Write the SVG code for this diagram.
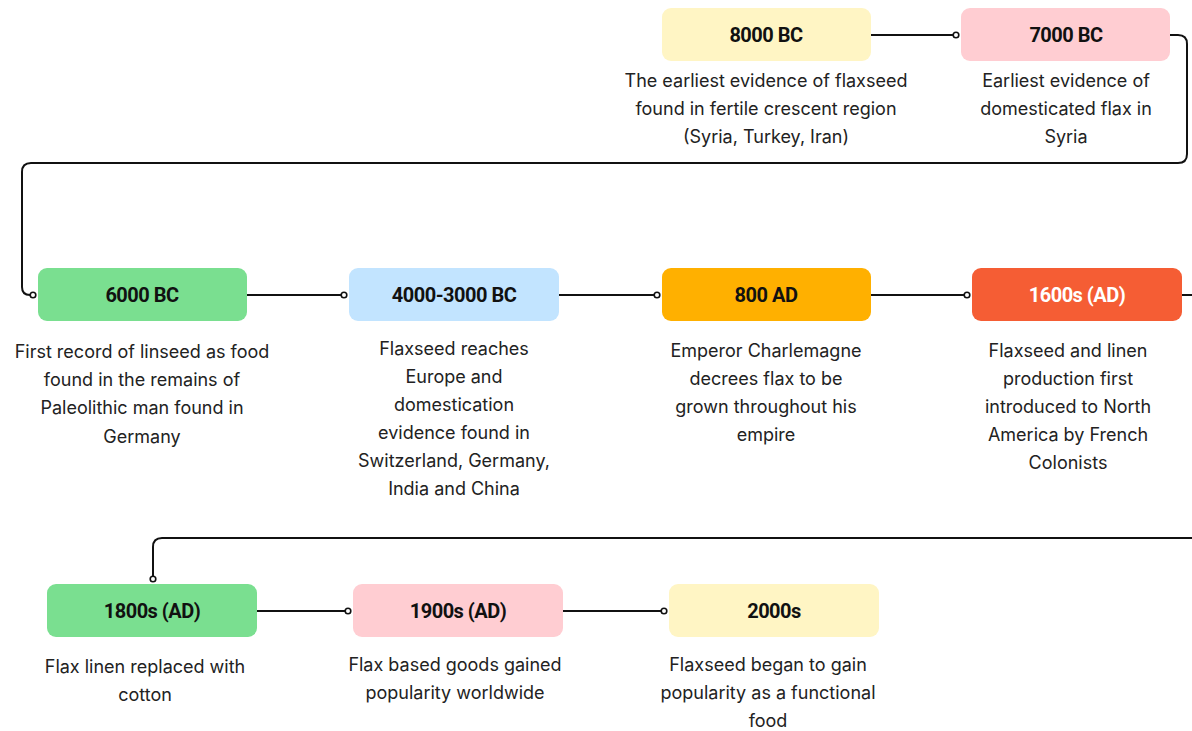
<svg xmlns="http://www.w3.org/2000/svg" width="1192" height="731" viewBox="0 0 1192 731">
<style>
.box{stroke:none}
.t{font-family:Roboto,"Liberation Sans",sans-serif;font-weight:700;font-size:20px;fill:#111;text-anchor:middle;letter-spacing:-0.5px}
.d{font-family:Inter,"Liberation Sans",sans-serif;font-size:18px;fill:#222;text-anchor:middle}
.c{fill:none;stroke:#111;stroke-width:2}
</style>
<defs>
<marker id="dot" markerWidth="8" markerHeight="8" refX="4" refY="4" markerUnits="userSpaceOnUse">
<circle cx="4" cy="4" r="2.8" fill="#fff" stroke="#111" stroke-width="1.6"/>
</marker>
</defs>
<rect width="1192" height="731" fill="#fff"/>
<g id="connectors">
<path class="c" d="M871 35 H956" marker-end="url(#dot)"/>
<path class="c" d="M1170 35 H1178 Q1187 35 1187 44 V154 Q1187 163 1178 163 H31 Q22 163 22 172 V287 Q22 295 30 295 H33" marker-end="url(#dot)"/>
<path class="c" d="M247 295 H344" marker-end="url(#dot)"/>
<path class="c" d="M559 295 H657" marker-end="url(#dot)"/>
<path class="c" d="M871 295 H967" marker-end="url(#dot)"/>
<path class="c" d="M1182 295 H1200 V538 H162 Q153 538 153 547 V579" marker-end="url(#dot)"/>
<path class="c" d="M257 611 H348" marker-end="url(#dot)"/>
<path class="c" d="M563 611 H664" marker-end="url(#dot)"/>
</g>
<g id="n8000">
<rect class="box" x="662" y="8" width="209" height="53" rx="9" fill="#FFF5C4"/>
<text class="t" x="766" y="42">8000 BC</text>
<text class="d" x="766" y="87">The earliest evidence of flaxseed</text>
<text class="d" x="766" y="115">found in fertile crescent region</text>
<text class="d" x="766" y="143">(Syria, Turkey, Iran)</text>
</g>
<g id="n7000">
<rect class="box" x="961" y="8" width="209" height="53" rx="9" fill="#FFCDD2"/>
<text class="t" x="1066" y="42">7000 BC</text>
<text class="d" x="1066" y="87">Earliest evidence of</text>
<text class="d" x="1066" y="115">domesticated flax in</text>
<text class="d" x="1066" y="143">Syria</text>
</g>
<g id="n6000">
<rect class="box" x="38" y="268" width="209" height="53" rx="9" fill="#7ADF90"/>
<text class="t" x="142" y="302">6000 BC</text>
<text class="d" x="142" y="358">First record of linseed as food</text>
<text class="d" x="142" y="386">found in the remains of</text>
<text class="d" x="142" y="414">Paleolithic man found in</text>
<text class="d" x="142" y="443">Germany</text>
</g>
<g id="n4000">
<rect class="box" x="349" y="268" width="210" height="53" rx="9" fill="#C2E4FF"/>
<text class="t" x="454" y="302">4000-3000 BC</text>
<text class="d" x="454" y="355">Flaxseed reaches</text>
<text class="d" x="454" y="383">Europe and</text>
<text class="d" x="454" y="411">domestication</text>
<text class="d" x="454" y="439">evidence found in</text>
<text class="d" x="454" y="467">Switzerland, Germany,</text>
<text class="d" x="454" y="495">India and China</text>
</g>
<g id="n800">
<rect class="box" x="662" y="268" width="209" height="53" rx="9" fill="#FFB000"/>
<text class="t" x="766" y="302">800 AD</text>
<text class="d" x="766" y="357">Emperor Charlemagne</text>
<text class="d" x="766" y="385">decrees flax to be</text>
<text class="d" x="766" y="413">grown throughout his</text>
<text class="d" x="766" y="441">empire</text>
</g>
<g id="n1600">
<rect class="box" x="972" y="268" width="210" height="53" rx="9" fill="#F55D34"/>
<text class="t" x="1077" y="302" style="fill:#fff">1600s (AD)</text>
<text class="d" x="1068" y="357">Flaxseed and linen</text>
<text class="d" x="1068" y="385">production first</text>
<text class="d" x="1068" y="413">introduced to North</text>
<text class="d" x="1068" y="441">America by French</text>
<text class="d" x="1068" y="469">Colonists</text>
</g>
<g id="n1800">
<rect class="box" x="47" y="584" width="210" height="53" rx="9" fill="#7ADF90"/>
<text class="t" x="152" y="618">1800s (AD)</text>
<text class="d" x="145" y="673">Flax linen replaced with</text>
<text class="d" x="145" y="701">cotton</text>
</g>
<g id="n1900">
<rect class="box" x="353" y="584" width="210" height="53" rx="9" fill="#FFCDD2"/>
<text class="t" x="458" y="618">1900s (AD)</text>
<text class="d" x="455" y="671">Flax based goods gained</text>
<text class="d" x="455" y="699">popularity worldwide</text>
</g>
<g id="n2000">
<rect class="box" x="669" y="584" width="210" height="53" rx="9" fill="#FFF5C4"/>
<text class="t" x="774" y="618">2000s</text>
<text class="d" x="768" y="671">Flaxseed began to gain</text>
<text class="d" x="768" y="699">popularity as a functional</text>
<text class="d" x="768" y="727">food</text>
</g>
</svg>
